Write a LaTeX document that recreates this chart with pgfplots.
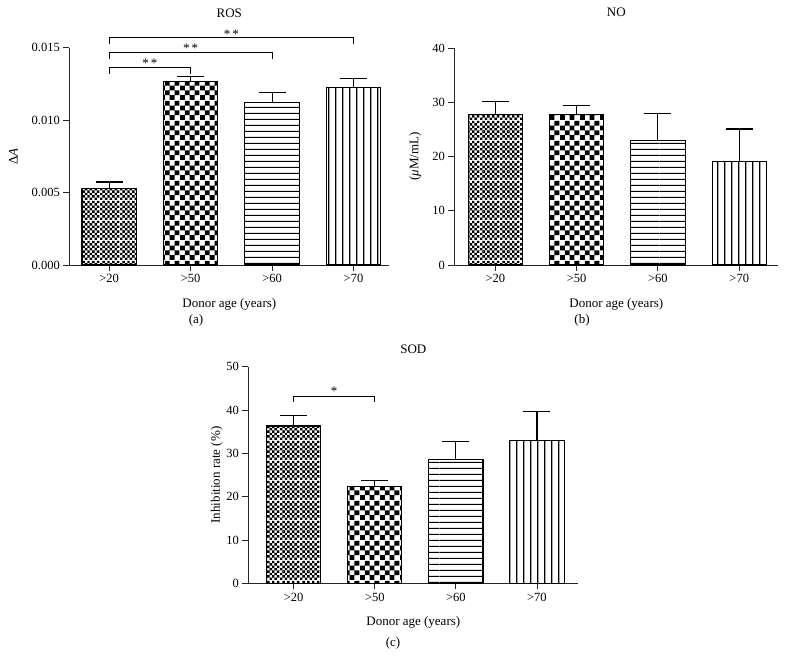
\documentclass[border=0pt]{standalone}
\usepackage{pgfplots}
\pgfplotsset{compat=1.18}
\usepackage{fontspec}
\setmainfont{Liberation Serif}
\usetikzlibrary{patterns}

\pgfdeclarepatternformonly{finecheck}{\pgfpointorigin}{\pgfqpoint{20pt}{20pt}}{\pgfqpoint{20pt}{20pt}}{%
  \foreach \i in {0,1,...,7}{\foreach \j in {0,1,...,7}{%
    \pgfmathparse{int(mod(\i+\j,2))}%
    \ifnum\pgfmathresult=0
      \pgfpathrectangle{\pgfpoint{\i*2.5pt}{\j*2.5pt}}{\pgfqpoint{2.5pt}{2.5pt}}%
    \fi}}%
  \pgfusepath{fill}}
\pgfdeclarepatternformonly{bigcheck}{\pgfpointorigin}{\pgfqpoint{20pt}{20pt}}{\pgfqpoint{20pt}{20pt}}{%
  \foreach \i in {0,1,2,3}{\foreach \j in {0,1,2,3}{%
    \pgfmathparse{int(mod(\i+\j,2))}%
    \ifnum\pgfmathresult=0
      \pgfpathrectangle{\pgfpoint{\i*5pt}{\j*5pt}}{\pgfqpoint{5pt}{5pt}}%
    \fi}}%
  \pgfusepath{fill}}
\pgfdeclarepatternformonly{hlin}{\pgfqpoint{0pt}{0pt}}{\pgfqpoint{110pt}{5.5pt}}{\pgfqpoint{110pt}{5.5pt}}{%
  \pgfpathrectangle{\pgfqpoint{0pt}{0pt}}{\pgfqpoint{110pt}{1.3pt}}%
  \pgfusepath{fill}}
\pgfdeclarepatternformonly{vlin}{\pgfqpoint{0pt}{0pt}}{\pgfqpoint{6.7pt}{134pt}}{\pgfqpoint{6.7pt}{134pt}}{%
  \pgfpathrectangle{\pgfqpoint{0pt}{0pt}}{\pgfqpoint{1.3pt}{134pt}}%
  \pgfusepath{fill}}

\pgfplotsset{
  panel/.style={
    scale only axis,
    anchor=south west,
    clip=false,
    axis lines*=left,
    axis line style={line width=0.9pt, black!85},
    tick style={line width=0.9pt, black!85},
    tick align=outside,
    major tick length=6pt,
    xtick={0,1,2,3},
    xticklabels={>20,>50,>60,>70},
    xtick pos=bottom, ytick pos=left,
    ymin=0,
    tick label style={font=\fontsize{12.5}{14}\selectfont},
    label style={font=\fontsize{13}{15}\selectfont},
    title style={font=\fontsize{13}{15}\selectfont},
    /pgf/number format/assume math mode=true,
    xlabel={Donor age (years)},
    xlabel style={at={(axis description cs:0.5,0)}, anchor=center, yshift=-39.3pt},
    title style={at={(axis description cs:0.5,1)}, anchor=center},
  },
  bar/.style={ybar, bar width=54.3pt, bar shift=0pt, draw=black, line width=1.1pt,
    error bars/y dir=plus, error bars/y explicit,
    error bars/error bar style={line width=1.1pt, black},
    error bars/error mark options={rotate=90, mark size=13.5pt, line width=1.1pt, black}},
}

\begin{document}
\begin{tikzpicture}[x=1pt,y=1pt]
\useasboundingbox (0,0) rectangle (787,660);

% ---------- (a) ROS ----------
\begin{axis}[panel,
  at={(69.3pt,395pt)}, width=320pt, height=217.3pt,
  xmin=-0.49, xmax=3.44, ymax=0.015,
  ytick={0,0.005,0.010,0.015},
  scaled y ticks=false,
  yticklabel style={/pgf/number format/fixed, /pgf/number format/fixed zerofill, /pgf/number format/precision=3},
  title={ROS}, title style={yshift=28.4pt},
  ylabel={Δ\textit{A}}, ylabel style={at={(axis description cs:-0.175,0.5)}, anchor=center},
]
\addplot[bar, pattern=finecheck] coordinates {(0,0.00525) +- (0,0.00048)};
\addplot[bar, pattern=bigcheck] coordinates {(1,0.01269) +- (0,0.00031)};
\addplot[bar, pattern=hlin] coordinates {(2,0.01124) +- (0,0.00064)};
\addplot[bar, pattern=vlin] coordinates {(3,0.01225) +- (0,0.00062)};
\draw[line width=0.9pt] (axis cs:0,0.01321) -- (axis cs:0,0.01367) -- (axis cs:1,0.01367) -- (axis cs:1,0.01321);
\draw[line width=0.9pt] (axis cs:0,0.01423) -- (axis cs:0,0.01469) -- (axis cs:2,0.01469) -- (axis cs:2,0.01423);
\draw[line width=0.9pt] (axis cs:0,0.01524) -- (axis cs:0,0.0157) -- (axis cs:3,0.0157) -- (axis cs:3,0.01524);
\node[font=\fontsize{13}{15}\selectfont] at (axis cs:0.5,0.01395) {*\,*};
\node[font=\fontsize{13}{15}\selectfont] at (axis cs:1,0.01494) {*\,*};
\node[font=\fontsize{13}{15}\selectfont] at (axis cs:1.5,0.01593) {*\,*};
\end{axis}

% ---------- (b) NO ----------
\begin{axis}[panel,
  at={(454.3pt,395pt)}, width=324pt, height=216.7pt,
  xmin=-0.504, xmax=3.48, ymax=40,
  ytick={0,10,20,30,40},
  title={NO}, title style={yshift=29.6pt},
  ylabel={(\textit{μ}M/mL)}, ylabel style={at={(axis description cs:-0.1204,0.5)}, anchor=center},
]
\addplot[bar, pattern=finecheck] coordinates {(0,27.86) +- (0,2.34)};
\addplot[bar, pattern=bigcheck] coordinates {(1,27.7) +- (0,1.8)};
\addplot[bar, pattern=hlin] coordinates {(2,22.9) +- (0,5.0)};
\addplot[bar, pattern=vlin] coordinates {(3,19.1) +- (0,6.0)};
\end{axis}

% ---------- (c) SOD ----------
\begin{axis}[panel,
  at={(248.3pt,76.7pt)}, width=330pt, height=216.6pt,
  xmin=-0.56, xmax=3.51, ymax=50,
  ytick={0,10,20,30,40,50},
  title={SOD}, title style={yshift=11.7pt},
  ylabel={Inhibition rate (\%)}, ylabel style={at={(axis description cs:-0.0958,0.5)}, anchor=center},
]
\addplot[bar, pattern=finecheck] coordinates {(0,36.3) +- (0,2.4)};
\addplot[bar, pattern=bigcheck] coordinates {(1,22.4) +- (0,1.35)};
\addplot[bar, pattern=hlin] coordinates {(2,28.5) +- (0,4.3)};
\addplot[bar, pattern=vlin] coordinates {(3,32.9) +- (0,6.7)};
\draw[line width=0.9pt] (axis cs:0,41.9) -- (axis cs:0,43.1) -- (axis cs:1,43.1) -- (axis cs:1,41.9);
\node[font=\fontsize{13}{15}\selectfont] at (axis cs:0.5,44.3) {*};
\end{axis}

\node[font=\fontsize{13}{15}\selectfont] at (196,340) {(a)};
\node[font=\fontsize{13}{15}\selectfont] at (582,340) {(b)};
\node[font=\fontsize{13}{15}\selectfont] at (393,17) {(c)};
\end{tikzpicture}
\end{document}
